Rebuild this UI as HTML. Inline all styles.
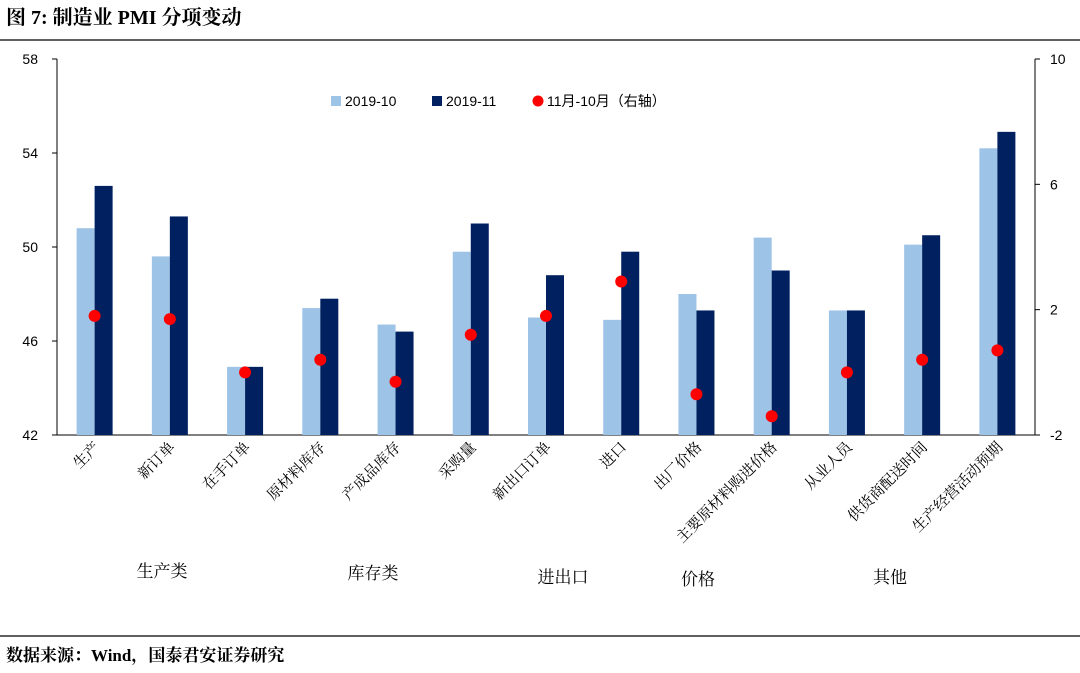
<!DOCTYPE html>
<html><head><meta charset="utf-8">
<style>
body{margin:0;background:#fff;width:1080px;height:668px;overflow:hidden;font-family:"Liberation Serif","Noto Serif CJK SC",serif;}
</style></head>
<body>
<svg width="1080" height="668" xmlns="http://www.w3.org/2000/svg">
<text x="6" y="24" font-size="20" font-weight="bold" font-family="Liberation Serif, Noto Serif CJK SC, serif">图 7:  制造业 PMI 分项变动</text>
<line x1="0" y1="40" x2="1080" y2="40" stroke="#000" stroke-width="1.2"/>
<line x1="0" y1="636" x2="1080" y2="636" stroke="#000" stroke-width="1.2"/>
<text x="6" y="661" font-size="17" font-weight="bold">数据来源：Wind，国泰君安证券研究</text>
<g id="chart"></g>
</svg>
<script>
const categories=["生产","新订单","在手订单","原材料库存","产成品库存","采购量","新出口订单","进口","出厂价格","主要原材料购进价格","从业人员","供货商配送时间","生产经营活动预期"];
const oct=[50.8,49.6,44.9,47.4,46.7,49.8,47.0,46.9,48.0,50.4,47.3,50.1,54.2];
const nov=[52.6,51.3,44.9,47.8,46.4,51.0,48.8,49.8,47.3,49.0,47.3,50.5,54.9];
const diff=[1.8,1.7,0.0,0.4,-0.3,1.2,1.8,2.9,-0.7,-1.4,0.0,0.4,0.7];
const leftTicks=[42,46,50,54,58];
const rightTicks=[-2,2,6,10];
const groups=["生产类","库存类","进出口","价格","其他"];
const groupPos=[[162,577],[373,579],[563,583],[698,585],[890,583]];
const NS="http://www.w3.org/2000/svg";
const g=document.getElementById("chart");
const X0=57,X1=1035,Y0=59,Y1=435;
const yL=v=>Y1-(v-42)/(58-42)*(Y1-Y0);
const yR=v=>Y1-(v+2)/12*(Y1-Y0);
const step=(X1-X0)/categories.length;
const cx=i=>X0+step*(i+0.5);
function el(t,a,txt){const e=document.createElementNS(NS,t);for(const k in a)e.setAttribute(k,a[k]);if(txt!==undefined)e.textContent=txt;g.appendChild(e);return e;}
let e=el("line",{x1:X0,y1:Y0,x2:X0,y2:Y1,stroke:"#000"});


e=el("line",{x1:X1,y1:Y0,x2:X1,y2:Y1,stroke:"#000"});


e=el("line",{x1:X0,y1:Y1,x2:X1,y2:Y1,stroke:"#000"});


leftTicks.forEach(v=>{
  e=el("text",{x:38,y:yL(v)+5,"font-size":14,"text-anchor":"end","font-family":"Liberation Sans, sans-serif"},v);
  
  
  el("line",{x1:X0-5,y1:yL(v),x2:X0,y2:yL(v),stroke:"#000"});
});
rightTicks.forEach(v=>{
  e=el("text",{x:1050,y:yR(v)+5,"font-size":14,"font-family":"Liberation Sans, sans-serif"},v);
  
  
  el("line",{x1:X1,y1:yR(v),x2:X1+5,y2:yR(v),stroke:"#000"});
});
categories.forEach((c,i)=>{
  const x=cx(i);
  let b=el("rect",{x:x-18,y:yL(oct[i]),width:18,height:Y1-yL(oct[i]),fill:"#9dc3e6"});
  
  
  b=el("rect",{x:x,y:yL(nov[i]),width:18,height:Y1-yL(nov[i]),fill:"#002060"});
  
  
  b=el("circle",{cx:x,cy:yR(diff[i]),r:6,fill:"#ff0000"});
  
  
  b=el("text",{x:x+6,y:448,"font-size":15,"text-anchor":"end",transform:`rotate(-45 ${x+6} 448)`},c);
  
  
});
groups.forEach((t,i)=>{
  e=el("text",{x:groupPos[i][0],y:groupPos[i][1],"font-size":17,"text-anchor":"middle"},t);
  
  
});
e=el("rect",{x:331,y:96,width:10,height:10,fill:"#9dc3e6"});


e=el("text",{x:345,y:106,"font-size":14,"font-family":"Liberation Sans, sans-serif"},"2019-10");


e=el("rect",{x:432,y:96,width:10,height:10,fill:"#002060"});


e=el("text",{x:446,y:106,"font-size":14,"font-family":"Liberation Sans, sans-serif"},"2019-11");


e=el("circle",{cx:538,cy:101,r:5.5,fill:"#ff0000"});


e=el("text",{x:547,y:106,"font-size":14,"font-family":"Liberation Sans, Noto Sans CJK SC, sans-serif"},"11月-10月（右轴）");


</script>
</body></html>
